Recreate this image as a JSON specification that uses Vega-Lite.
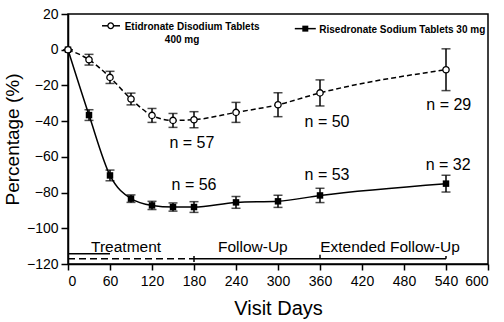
{
  "$schema": "https://vega.github.io/schema/vega-lite/v6.json",
  "width": 420,
  "height": 250,
  "autosize": {"type": "none"},
  "padding": {"left": 68, "top": 14, "right": 16, "bottom": 58},
  "background": "white",
  "config": {
    "view": {"stroke": "black", "strokeWidth": 1.5},
    "font": "Liberation Sans",
    "axis": {"grid": false, "domainColor": "black", "domainWidth": 1.5, "tickColor": "black", "tickWidth": 1.5, "labelColor": "black", "titleColor": "black", "labelFont": "Liberation Sans", "titleFont": "Liberation Sans", "titleFontWeight": "normal", "titleFontSize": 20, "labelFontSize": 14, "labelOverlap": false},
    "axisX": {"tickSize": 6, "labelPadding": 4, "titlePadding": 10},
    "axisY": {"tickSize": 7, "labelPadding": 3, "titlePadding": 4, "titleFontSize": 19}
  },
  "datasets": {
    "series": [
      {"series": "Etidronate", "day": 0, "value": 0, "lo": 0, "hi": 0},
      {"series": "Etidronate", "day": 30, "value": -5.6, "lo": -8.6, "hi": -2.6},
      {"series": "Etidronate", "day": 60, "value": -15.5, "lo": -18.9, "hi": -12.1},
      {"series": "Etidronate", "day": 90, "value": -27.6, "lo": -30.9, "hi": -24.3},
      {"series": "Etidronate", "day": 120, "value": -36.8, "lo": -40.7, "hi": -32.9},
      {"series": "Etidronate", "day": 150, "value": -39.6, "lo": -43.5, "hi": -35.7},
      {"series": "Etidronate", "day": 180, "value": -39.2, "lo": -43.7, "hi": -34.7},
      {"series": "Etidronate", "day": 240, "value": -35.1, "lo": -40.7, "hi": -29.5},
      {"series": "Etidronate", "day": 300, "value": -30.8, "lo": -37.5, "hi": -24.1},
      {"series": "Etidronate", "day": 360, "value": -24.2, "lo": -31.5, "hi": -16.9},
      {"series": "Etidronate", "day": 540, "value": -11.2, "lo": -22.9, "hi": 0.5},
      {"series": "Risedronate", "day": 0, "value": 0, "lo": 0, "hi": 0},
      {"series": "Risedronate", "day": 30, "value": -36.6, "lo": -39.6, "hi": -33.6},
      {"series": "Risedronate", "day": 60, "value": -70.4, "lo": -73.4, "hi": -67.4},
      {"series": "Risedronate", "day": 90, "value": -83.4, "lo": -85.5, "hi": -81.3},
      {"series": "Risedronate", "day": 120, "value": -87.2, "lo": -89.5, "hi": -84.9},
      {"series": "Risedronate", "day": 150, "value": -88.1, "lo": -90.4, "hi": -85.8},
      {"series": "Risedronate", "day": 180, "value": -88.1, "lo": -91.1, "hi": -85.1},
      {"series": "Risedronate", "day": 240, "value": -85.5, "lo": -88.8, "hi": -82.2},
      {"series": "Risedronate", "day": 300, "value": -84.9, "lo": -88.3, "hi": -81.5},
      {"series": "Risedronate", "day": 360, "value": -81.6, "lo": -85.6, "hi": -77.6},
      {"series": "Risedronate", "day": 540, "value": -75, "lo": -79.7, "hi": -70.3}
    ],
    "nlabels": [
      {"day": 177, "value": -52, "text": "n = 57"},
      {"day": 370, "value": -40.3, "text": "n = 50"},
      {"day": 544, "value": -31, "text": "n = 29"},
      {"day": 180, "value": -75.6, "text": "n = 56"},
      {"day": 370, "value": -70, "text": "n = 53"},
      {"day": 543, "value": -64.4, "text": "n = 32"}
    ],
    "periodLines": [
      {"start": 0, "end": 60, "value": -114.2, "style": "solid"},
      {"start": 0, "end": 180, "value": -117, "style": "dashed"},
      {"start": 180, "end": 540, "value": -117, "style": "solid"}
    ],
    "periodTicks": [
      {"day": 180, "top": -115.5, "bottom": -118.9},
      {"day": 360, "top": -114.8, "bottom": -117},
      {"day": 540, "top": -115.5, "bottom": -117}
    ],
    "periodText": [
      {"day": 83, "value": -110.3, "text": "Treatment"},
      {"day": 264, "value": -110.3, "text": "Follow-Up"},
      {"day": 460, "value": -110.3, "text": "Extended Follow-Up"}
    ],
    "legendLines": [
      {"series": "Etidronate", "start": 48.6, "end": 74.3, "value": 13.4, "mid": 61},
      {"series": "Risedronate", "start": 324, "end": 354, "value": 11.8, "mid": 339}
    ],
    "legendText": [
      {"day": 81, "value": 12.9, "text": "Etidronate Disodium Tablets", "align": "left"},
      {"day": 163, "value": 5.4, "text": "400 mg", "align": "center"},
      {"day": 359, "value": 11.2, "text": "Risedronate Sodium Tablets 30 mg", "align": "left"}
    ]
  },
  "layer": [
    {
      "data": {"name": "periodLines"},
      "transform": [{"filter": "datum.style == 'solid'"}],
      "mark": {"type": "rule", "color": "black", "strokeWidth": 1.5},
      "encoding": {
        "x": {"field": "start", "type": "quantitative", "scale": {"domain": [0, 600], "nice": false},
          "axis": {"values": [0, 60, 120, 180, 240, 300, 360, 420, 480, 540, 600], "title": "Visit Days"}},
        "x2": {"field": "end"},
        "y": {"field": "value", "type": "quantitative", "scale": {"domain": [-120, 20], "nice": false},
          "axis": {"values": [-120, -100, -80, -60, -40, -20, 0, 20], "title": "Percentage (%)"}}
      }
    },
    {
      "data": {"name": "periodLines"},
      "transform": [{"filter": "datum.style == 'dashed'"}],
      "mark": {"type": "rule", "color": "black", "strokeWidth": 1.5, "strokeDash": [7, 4]},
      "encoding": {
        "x": {"field": "start", "type": "quantitative", "axis": {"values": [0, 60, 120, 180, 240, 300, 360, 420, 480, 540, 600], "title": "Visit Days"}},
        "x2": {"field": "end"},
        "y": {"field": "value", "type": "quantitative", "axis": {"values": [-120, -100, -80, -60, -40, -20, 0, 20], "title": "Percentage (%)"}}
      }
    },
    {
      "data": {"name": "periodTicks"},
      "mark": {"type": "rule", "color": "black", "strokeWidth": 1.5},
      "encoding": {
        "x": {"field": "day", "type": "quantitative", "axis": {"values": [0, 60, 120, 180, 240, 300, 360, 420, 480, 540, 600], "title": "Visit Days"}},
        "y": {"field": "top", "type": "quantitative", "axis": {"values": [-120, -100, -80, -60, -40, -20, 0, 20], "title": "Percentage (%)"}},
        "y2": {"field": "bottom"}
      }
    },
    {
      "data": {"name": "periodText"},
      "mark": {"type": "text", "fontSize": 15.5, "color": "black", "baseline": "middle", "align": "center"},
      "encoding": {
        "x": {"field": "day", "type": "quantitative", "axis": {"values": [0, 60, 120, 180, 240, 300, 360, 420, 480, 540, 600], "title": "Visit Days"}},
        "y": {"field": "value", "type": "quantitative", "axis": {"values": [-120, -100, -80, -60, -40, -20, 0, 20], "title": "Percentage (%)"}},
        "text": {"field": "text"}
      }
    },
    {
      "data": {"name": "series"},
      "mark": {"type": "errorbar", "ticks": {"size": 9}, "thickness": 1.5, "color": "black"},
      "encoding": {
        "x": {"field": "day", "type": "quantitative", "axis": {"values": [0, 60, 120, 180, 240, 300, 360, 420, 480, 540, 600], "title": "Visit Days"}},
        "y": {"field": "lo", "type": "quantitative", "axis": {"values": [-120, -100, -80, -60, -40, -20, 0, 20], "title": "Percentage (%)"}},
        "y2": {"field": "hi"},
        "detail": {"field": "series"}
      }
    },
    {
      "data": {"name": "series"},
      "transform": [{"filter": "datum.series == 'Etidronate'"}],
      "mark": {"type": "line", "interpolate": "monotone", "color": "black", "strokeWidth": 1.5, "strokeDash": [5, 3]},
      "encoding": {
        "x": {"field": "day", "type": "quantitative", "axis": {"values": [0, 60, 120, 180, 240, 300, 360, 420, 480, 540, 600], "title": "Visit Days"}},
        "y": {"field": "value", "type": "quantitative", "axis": {"values": [-120, -100, -80, -60, -40, -20, 0, 20], "title": "Percentage (%)"}}
      }
    },
    {
      "data": {"name": "series"},
      "transform": [{"filter": "datum.series == 'Risedronate'"}],
      "mark": {"type": "line", "interpolate": "monotone", "color": "black", "strokeWidth": 1.5},
      "encoding": {
        "x": {"field": "day", "type": "quantitative", "axis": {"values": [0, 60, 120, 180, 240, 300, 360, 420, 480, 540, 600], "title": "Visit Days"}},
        "y": {"field": "value", "type": "quantitative", "axis": {"values": [-120, -100, -80, -60, -40, -20, 0, 20], "title": "Percentage (%)"}}
      }
    },
    {
      "data": {"name": "series"},
      "transform": [{"filter": "datum.series == 'Risedronate'"}],
      "mark": {"type": "square", "filled": true, "color": "black", "opacity": 1, "size": 42},
      "encoding": {
        "x": {"field": "day", "type": "quantitative", "axis": {"values": [0, 60, 120, 180, 240, 300, 360, 420, 480, 540, 600], "title": "Visit Days"}},
        "y": {"field": "value", "type": "quantitative", "axis": {"values": [-120, -100, -80, -60, -40, -20, 0, 20], "title": "Percentage (%)"}}
      }
    },
    {
      "data": {"name": "series"},
      "transform": [{"filter": "datum.series == 'Etidronate'"}],
      "mark": {"type": "circle", "fill": "white", "stroke": "black", "strokeWidth": 1.3, "opacity": 1, "size": 40},
      "encoding": {
        "x": {"field": "day", "type": "quantitative", "axis": {"values": [0, 60, 120, 180, 240, 300, 360, 420, 480, 540, 600], "title": "Visit Days"}},
        "y": {"field": "value", "type": "quantitative", "axis": {"values": [-120, -100, -80, -60, -40, -20, 0, 20], "title": "Percentage (%)"}}
      }
    },
    {
      "data": {"name": "nlabels"},
      "mark": {"type": "text", "fontSize": 16, "color": "black", "baseline": "middle", "align": "center"},
      "encoding": {
        "x": {"field": "day", "type": "quantitative", "axis": {"values": [0, 60, 120, 180, 240, 300, 360, 420, 480, 540, 600], "title": "Visit Days"}},
        "y": {"field": "value", "type": "quantitative", "axis": {"values": [-120, -100, -80, -60, -40, -20, 0, 20], "title": "Percentage (%)"}},
        "text": {"field": "text"}
      }
    },
    {
      "data": {"name": "legendLines"},
      "mark": {"type": "rule", "color": "black", "strokeWidth": 1.5},
      "encoding": {
        "x": {"field": "start", "type": "quantitative", "axis": {"values": [0, 60, 120, 180, 240, 300, 360, 420, 480, 540, 600], "title": "Visit Days"}},
        "x2": {"field": "end"},
        "y": {"field": "value", "type": "quantitative", "axis": {"values": [-120, -100, -80, -60, -40, -20, 0, 20], "title": "Percentage (%)"}}
      }
    },
    {
      "data": {"name": "legendLines"},
      "transform": [{"filter": "datum.series == 'Risedronate'"}],
      "mark": {"type": "square", "filled": true, "color": "black", "opacity": 1, "size": 36},
      "encoding": {
        "x": {"field": "mid", "type": "quantitative", "axis": {"values": [0, 60, 120, 180, 240, 300, 360, 420, 480, 540, 600], "title": "Visit Days"}},
        "y": {"field": "value", "type": "quantitative", "axis": {"values": [-120, -100, -80, -60, -40, -20, 0, 20], "title": "Percentage (%)"}}
      }
    },
    {
      "data": {"name": "legendLines"},
      "transform": [{"filter": "datum.series == 'Etidronate'"}],
      "mark": {"type": "circle", "fill": "white", "stroke": "black", "strokeWidth": 1.3, "opacity": 1, "size": 32},
      "encoding": {
        "x": {"field": "mid", "type": "quantitative", "axis": {"values": [0, 60, 120, 180, 240, 300, 360, 420, 480, 540, 600], "title": "Visit Days"}},
        "y": {"field": "value", "type": "quantitative", "axis": {"values": [-120, -100, -80, -60, -40, -20, 0, 20], "title": "Percentage (%)"}}
      }
    },
    {
      "data": {"name": "legendText"},
      "transform": [{"filter": "datum.align == 'left'"}],
      "mark": {"type": "text", "fontSize": 10, "fontWeight": "bold", "font": "Liberation Sans", "color": "black", "baseline": "middle", "align": "left"},
      "encoding": {
        "x": {"field": "day", "type": "quantitative", "axis": {"values": [0, 60, 120, 180, 240, 300, 360, 420, 480, 540, 600], "title": "Visit Days"}},
        "y": {"field": "value", "type": "quantitative", "axis": {"values": [-120, -100, -80, -60, -40, -20, 0, 20], "title": "Percentage (%)"}},
        "text": {"field": "text"}
      }
    },
    {
      "data": {"name": "legendText"},
      "transform": [{"filter": "datum.align == 'center'"}],
      "mark": {"type": "text", "fontSize": 10, "fontWeight": "bold", "font": "Liberation Sans", "color": "black", "baseline": "middle", "align": "center"},
      "encoding": {
        "x": {"field": "day", "type": "quantitative", "axis": {"values": [0, 60, 120, 180, 240, 300, 360, 420, 480, 540, 600], "title": "Visit Days"}},
        "y": {"field": "value", "type": "quantitative", "axis": {"values": [-120, -100, -80, -60, -40, -20, 0, 20], "title": "Percentage (%)"}},
        "text": {"field": "text"}
      }
    }
  ]
}
